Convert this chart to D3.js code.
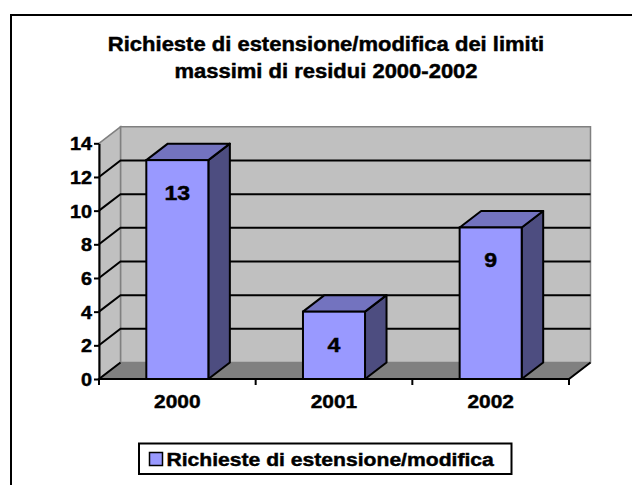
<!DOCTYPE html>
<html>
<head>
<meta charset="utf-8">
<script src="https://cdn.jsdelivr.net/npm/d3@7"></script>
<style>
  body { margin: 0; background: #fff; }
  svg text { font-family: "Liberation Sans", Arial, sans-serif; font-weight: bold; fill: #000; stroke: #000; stroke-width: 0.45px; }
</style>
</head>
<body>
<svg id="chart" width="632" height="485"></svg>
<script>
// chart values
var categories = ["2000", "2001", "2002"];
var values = [13, 4, 9];
var yTicks = [0, 2, 4, 6, 8, 10, 12, 14];
var seriesName = "Richieste di estensione/modifica";
var titleLines = ["Richieste di estensione/modifica dei limiti", "massimi di residui 2000-2002"];

var svg = d3.select("#chart"),
	stretch = 1.1,     // the picture is a bit wider than tall, text too
	depthX = 21.5,
	depthY = -16.5;

var x = d3.scaleBand().domain(categories).range([99, 569]).paddingInner(0.604).paddingOuter(0.302);
var y = d3.scaleLinear().domain([0, 14]).range([379, 143.3]);

// --- FRAME --- //
svg.append("rect")
	.attr("x", 11).attr("y", 15)
	.attr("width", 700).attr("height", 600)
	.attr("fill", "#fff").attr("stroke", "#000").attr("stroke-width", 2);

// --- TITLE --- //
svg.selectAll(".title").data(titleLines).enter().append("text")
	.attr("class", "title")
	.attr("text-anchor", "middle")
	.attr("font-size", 20)
	.attr("transform", function(d, i) { return "translate(326," + (51 + i * 27) + ") scale(" + stretch + ",1)"; })
	.text(function(d) { return d; });

// --- WALLS --- //
var x0 = x.range()[0], x1 = x.range()[1], yb = y(0), yt = y(14);
function pts(a) { return a.map(function(p) { return p.join(","); }).join(" "); }

svg.append("polygon") // back wall
	.attr("points", pts([[x0 + depthX, yt + depthY], [x1 + depthX, yt + depthY], [x1 + depthX, yb + depthY], [x0 + depthX, yb + depthY]]))
	.attr("fill", "#c0c0c0").attr("stroke", "#808080").attr("stroke-width", 1.5);
svg.append("polygon") // side wall
	.attr("points", pts([[x0, yt], [x0 + depthX, yt + depthY], [x0 + depthX, yb + depthY], [x0, yb]]))
	.attr("fill", "#c0c0c0").attr("stroke", "#808080").attr("stroke-width", 1.5);
svg.append("polygon") // floor
	.attr("points", pts([[x0, yb], [x0 + depthX, yb + depthY], [x1 + depthX, yb + depthY], [x1, yb]]))
	.attr("fill", "#808080").attr("stroke", "#808080").attr("stroke-width", 1);

// gridlines on back and side wall
var inner = yTicks.filter(function(v) { return v > 0 && v < 14; });
svg.selectAll(".grid").data(inner).enter().append("polyline")
	.attr("class", "grid")
	.attr("points", function(v) { return pts([[x0, y(v)], [x0 + depthX, y(v) + depthY], [x1 + depthX, y(v) + depthY]]); })
	.attr("fill", "none").attr("stroke", "#000").attr("stroke-width", 2);

// --- BARS --- //
var data = categories.map(function(c, i) { return { cat: c, value: values[i] }; });
var bars = svg.selectAll(".bar").data(data).enter().append("g").attr("class", "bar");

bars.append("polygon") // side
	.attr("points", function(d) {
		var r = x(d.cat) + x.bandwidth(), t = y(d.value);
		return pts([[r, t], [r + depthX, t + depthY], [r + depthX, yb + depthY], [r, yb]]);
	})
	.attr("fill", "#4d4d80").attr("stroke", "#000").attr("stroke-width", 2).attr("stroke-linejoin", "round");
bars.append("polygon") // top
	.attr("points", function(d) {
		var l = x(d.cat), r = l + x.bandwidth(), t = y(d.value);
		return pts([[l, t], [l + depthX, t + depthY], [r + depthX, t + depthY], [r, t]]);
	})
	.attr("fill", "#7373bf").attr("stroke", "#000").attr("stroke-width", 2).attr("stroke-linejoin", "round");
bars.append("rect") // front
	.attr("x", function(d) { return x(d.cat); })
	.attr("y", function(d) { return y(d.value); })
	.attr("width", x.bandwidth())
	.attr("height", function(d) { return yb - y(d.value); })
	.attr("fill", "#9999ff").attr("stroke", "#000").attr("stroke-width", 2);

bars.append("text")
	.attr("text-anchor", "middle")
	.attr("font-size", 21)
	.attr("transform", function(d) {
		return "translate(" + (x(d.cat) + x.bandwidth() / 2) + "," + (y(d.value) + 40) + ") scale(" + stretch + ",1)";
	})
	.text(function(d) { return d.value; });

// --- AXES --- //
var yAxis = svg.append("g")
	.attr("transform", "translate(" + x0 + ",0)")
	.call(d3.axisLeft(y).tickValues(yTicks).tickSize(5).tickSizeOuter(0));
yAxis.select(".domain").attr("stroke", "#000").attr("stroke-width", 2);
yAxis.selectAll(".tick line").attr("stroke", "#000").attr("stroke-width", 2);
yAxis.selectAll(".tick text")
	.attr("font-size", 18).attr("font-family", null)
	.attr("x", -7 / stretch).attr("dy", "0.36em")
	.attr("transform", "scale(" + stretch + ",1)");

// floor front edge and its right/left diagonal
svg.append("polyline")
	.attr("points", pts([[x0 + depthX, yb + depthY], [x0, yb], [x1, yb], [x1 + depthX, yb + depthY]]))
	.attr("fill", "none").attr("stroke", "#000").attr("stroke-width", 2);

var xAxis = svg.append("g")
	.attr("transform", "translate(0," + yb + ")")
	.call(d3.axisBottom(x).tickSize(0).tickPadding(16));
xAxis.select(".domain").remove();
xAxis.selectAll(".tick text")
	.attr("font-size", 19).attr("font-family", null)
	.attr("dy", "0.71em")
	.attr("transform", "scale(" + stretch + ",1)");
// centre the stretched labels back on their ticks
xAxis.selectAll(".tick").each(function(d) {
	d3.select(this).attr("transform", "translate(" + (x(d) + x.bandwidth() / 2) + ",0)");
});

// category boundary ticks
var bounds = d3.range(categories.length + 1).map(function(i) { return x0 + i * x.step(); });
svg.selectAll(".ctick").data(bounds).enter().append("line")
	.attr("class", "ctick")
	.attr("x1", function(d) { return d; }).attr("x2", function(d) { return d; })
	.attr("y1", yb).attr("y2", yb + 6)
	.attr("stroke", "#000").attr("stroke-width", 2);

// --- LEGEND --- //
var legend = svg.append("g");
legend.append("rect")
	.attr("x", 139).attr("y", 443.5).attr("width", 372.5).attr("height", 30.5)
	.attr("fill", "#fff").attr("stroke", "#000").attr("stroke-width", 2);
legend.append("rect")
	.attr("x", 149.5).attr("y", 452.5).attr("width", 13).attr("height", 13)
	.attr("fill", "#9999ff").attr("stroke", "#000").attr("stroke-width", 1.5);
legend.append("text")
	.attr("font-size", 19.2)
	.attr("transform", "translate(166.5,465.5) scale(" + stretch + ",1)")
	.text(seriesName);
</script>
</body>
</html>
